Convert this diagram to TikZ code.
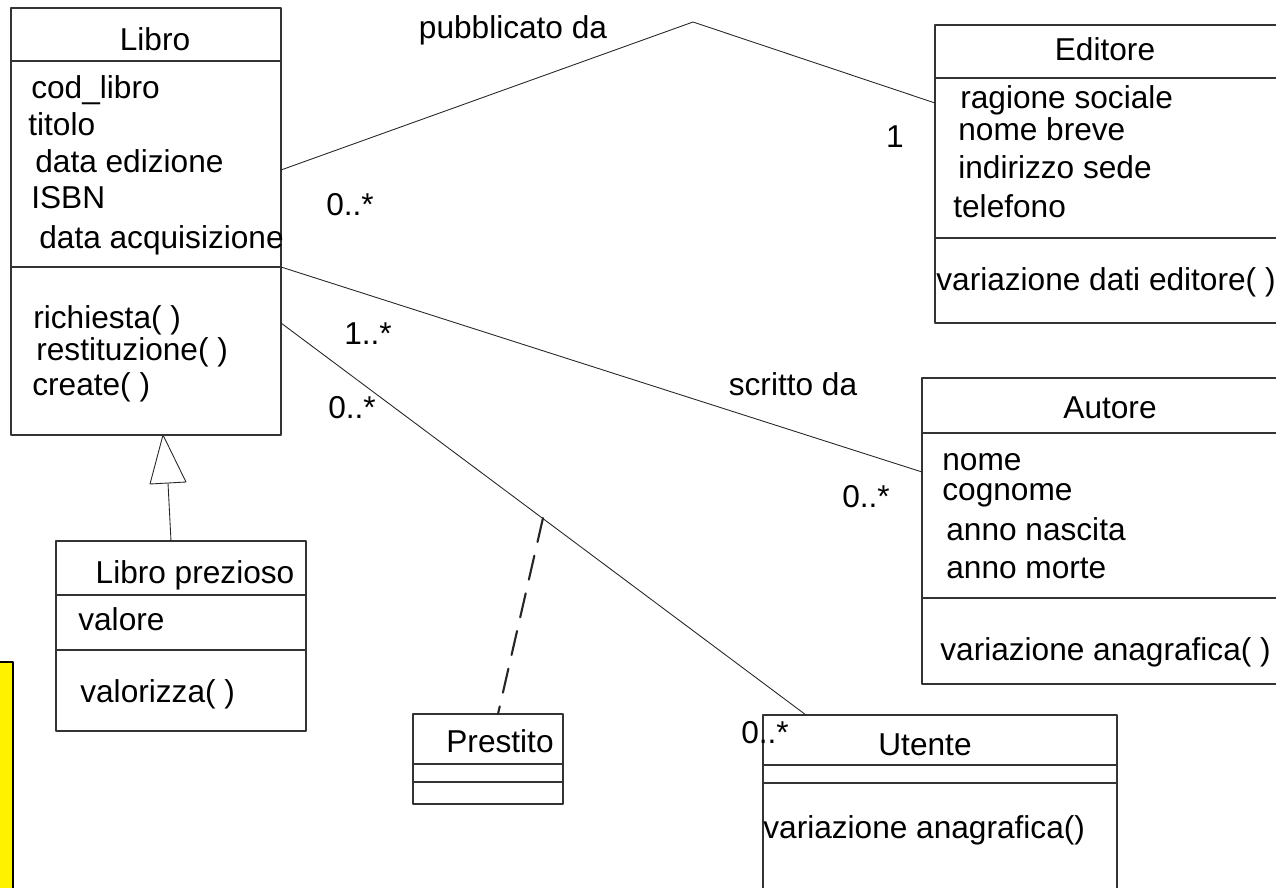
\documentclass[tikz,border=0pt]{standalone}
\usepackage{fontspec}
\setmainfont{Liberation Sans}
\begin{document}
\begin{tikzpicture}[x=0.02cm, y=-0.02cm, line join=round, line cap=round,
	font=\fontsize{18}{20}\selectfont,
	box/.style={draw=black!80, line width=0.7pt},
	txt/.style={anchor=mid west, inner sep=0pt, yshift=-0.12cm},
	ttl/.style={anchor=mid, inner sep=0pt, yshift=-0.12cm},
	assoc/.style={draw=black!85, line width=0.5pt}]
	\useasboundingbox (0,0) rectangle (1276,888);
	% nota gialla al bordo
	\draw[fill=yellow, line width=1pt] (-10,662) rectangle (13,900);
	% classi
	\draw[box] (11,8) rectangle (281,435) (11,61) -- (281,61) (11,267) -- (281,267);
	\draw[box] (935,25) rectangle (1290,323) (935,78) -- (1290,78) (935,238) -- (1290,238);
	\draw[box] (922,378) rectangle (1290,684) (922,433) -- (1290,433) (922,598) -- (1290,598);
	\draw[box] (56,541) rectangle (306,731) (56,595) -- (306,595) (56,650) -- (306,650);
	\draw[box] (413,714) rectangle (563,804) (413,764) -- (563,764) (413,782) -- (563,782);
	\draw[box] (763,715) rectangle (1117,900) (763,765) -- (1117,765) (763,783) -- (1117,783);
	\node[ttl] (libro) at (155,40) {Libro};
	\node[ttl] (editore) at (1105,50) {Editore};
	\node[ttl] (autore) at (1110,408) {Autore};
	\node[ttl] (prezioso) at (195,573) {Libro prezioso};
	\node[ttl] (prestito) at (500,742) {Prestito};
	\node[ttl] (utente) at (925,745) {Utente};
	\foreach \t/\x/\y [count=\i] in {cod\_libro/31/88, titolo/28/125, data edizione/35/162,
		ISBN/31/198, data acquisizione/39/238, richiesta( )/33/318,
		restituzione( )/36/350, create( )/32/385} {
		\node[txt] (l\i) at (\x,\y) {\t};
	}
	\foreach \t/\x/\y [count=\i] in {ragione sociale/960/98, nome breve/958/130,
		indirizzo sede/958/168, telefono/953/207, variazione dati editore( )/936/280} {
		\node[txt] (e\i) at (\x,\y) {\t};
	}
	\foreach \t/\x/\y [count=\i] in {nome/942/460, cognome/942/490, anno nascita/946/530,
		anno morte/946/568, variazione anagrafica( )/940/650} {
		\node[txt] (a\i) at (\x,\y) {\t};
	}
	\node[txt] (p1) at (78,620) {valore};
	\node[txt] (p2) at (80,692) {valorizza( )};
	\node[txt] (u1) at (763,828) {variazione anagrafica()};
	% associazioni
	\path (281,170) coordinate (L1)
	(693,22) coordinate (K)
	(935,103) coordinate (E1)
	(281,267) coordinate (L2)
	(922,472) coordinate (A1)
	(281,323) coordinate (L3)
	(806,715) coordinate (U1)
	(543,518) coordinate (M)
	(498,714) coordinate (P1)
	(171,541) coordinate (G1)
	(168,483) coordinate (G2)
	(163,435) coordinate (G3);
	\draw[assoc] (L1) -- (K) -- (E1);
	\draw[assoc] (L2) -- (A1);
	\draw[assoc] (L3) -- (U1);
	\draw[assoc, line width=1.2pt, dash pattern=on 14pt off 8pt] (M) -- (P1);
	\draw[assoc] (G1) -- (G2);
	\draw[assoc, fill=white] (G3) -- (150,484) -- (186,482) -- cycle;
	\node[ttl] (pub) at (513,28) {pubblicato da};
	\node[ttl] (scr) at (793,385) {scritto da};
	\node[ttl] (m1) at (350,205) {0..*};
	\node[ttl] (m2) at (895,137) {1};
	\node[ttl] (m3) at (368,334) {1..*};
	\node[ttl] (m4) at (866,497) {0..*};
	\node[ttl] (m5) at (352,408) {0..*};
	\node[ttl] (m6) at (765,733) {0..*};
\end{tikzpicture}
\end{document}
